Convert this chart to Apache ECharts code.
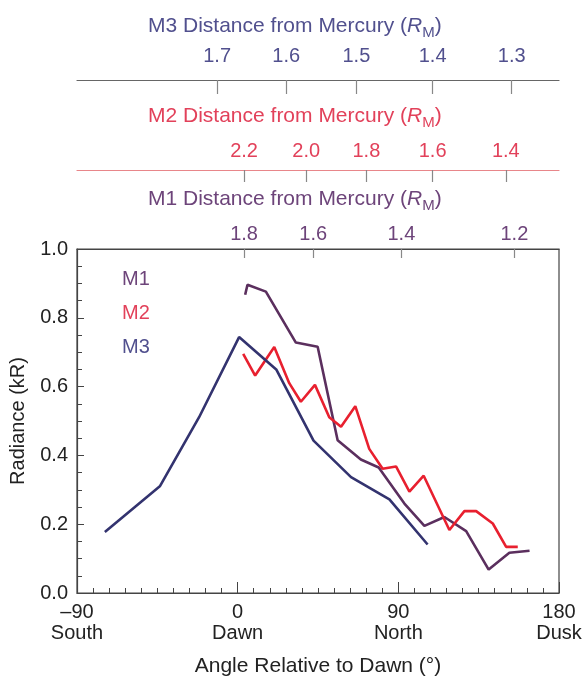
<!DOCTYPE html>
<html>
<head>
<meta charset="utf-8">
<script src="https://cdn.jsdelivr.net/npm/echarts@6/dist/echarts.min.js"></script>
<style>
  html, body { margin: 0; padding: 0; background: #fff; }
  #chart { width: 585px; height: 683px; }
</style>
</head>
<body>
<div id="chart"></div>
<script>
// Datos (angulo en grados, radiancia en kR)
const m1Angle = [4.2, 5.5, 15.8, 32.6, 44.8, 56, 69, 79, 93.4, 104.6, 115.8, 128, 140.6, 152.2, 163.5];
const m1Radiance = [0.867, 0.896, 0.876, 0.728, 0.716, 0.444, 0.388, 0.365, 0.26, 0.195, 0.221, 0.18, 0.068, 0.117, 0.123];

const m2Angle = [3.1, 9.8, 20.5, 28.9, 35.4, 43.3, 51.3, 57.9, 65.9, 73.7, 81.2, 88.7, 96.2, 104.2, 118.6, 127, 133.6, 142.9, 150.4, 156.9];
const m2Radiance = [0.695, 0.632, 0.715, 0.61, 0.556, 0.605, 0.511, 0.483, 0.543, 0.419, 0.361, 0.368, 0.295, 0.341, 0.183, 0.238, 0.238, 0.202, 0.134, 0.134];

const m3Angle = [-74.4, -43.6, -21.6, 0.8, 21.6, 42.5, 63.5, 85, 106.4];
const m3Radiance = [0.177, 0.31, 0.511, 0.744, 0.65, 0.443, 0.337, 0.272, 0.141];

// Ejes de distancia (posicion en angulo y etiqueta)
const m1DistLabels = ['1.8', '1.6', '1.4', '1.2'];
const m1DistAngles = [3.6, 42.3, 91.7, 155];
const m2DistLabels = ['2.2', '2.0', '1.8', '1.6', '1.4'];
const m2DistAngles = [3.6, 38.4, 72.1, 109.2, 150.2];
const m3DistLabels = ['1.7', '1.6', '1.5', '1.4', '1.3'];
const m3DistAngles = [-11.5, 27.2, 66.5, 109.2, 153.5];

const angleTicks = [-90, 0, 90, 180];
const angleNames = ['South', 'Dawn', 'North', 'Dusk'];

const colorM1 = '#5b2f5e';
const colorM2 = '#e8202f';
const colorM3 = '#33336f';
const textM1 = '#6d447a';
const textM2 = '#e2415a';
const textM3 = '#51508e';
const fuente = 'Liberation Sans, Arial, Helvetica, sans-serif';

function zip(xs, ys) {
    return xs.map((x, i) => [x, ys[i]]);
}

// Buscar la etiqueta mas cercana al valor
function etiqueta(angles, labels) {
    return function(v) {
        let best = 0;
        for (let i = 1; i < angles.length; i++) {
            if (Math.abs(angles[i] - v) < Math.abs(angles[best] - v)) best = i;
        }
        return labels[best];
    };
}

function ejeDistancia(angles, labels, offset, lineColor, textColor, tickLen, margin) {
    return {
        type: 'value',
        position: 'top',
        offset: offset,
        min: -90,
        max: 180,
        axisLine: { show: true, onZero: false, lineStyle: { color: lineColor, width: 1.2 } },
        axisTick: { show: true, inside: true, length: tickLen, customValues: angles, lineStyle: { color: '#888', width: 1.2 } },
        axisLabel: {
            show: true, customValues: angles, margin: margin,
            color: textColor, fontSize: 20, fontFamily: fuente,
            formatter: etiqueta(angles, labels)
        },
        splitLine: { show: false }
    };
}

function tituloRich(prefix, color, top) {
    return {
        text: '{n|' + prefix + ' Distance from Mercury (}{r|R}{s|M}{n|)}',
        left: 143,
        top: top,
        textStyle: {
            fontWeight: 'normal',
            rich: {
                n: { color: color, fontSize: 21, fontFamily: fuente, fontWeight: 'normal' },
                r: { color: color, fontSize: 21, fontFamily: fuente, fontStyle: 'italic', fontWeight: 'normal' },
                s: { color: color, fontSize: 15, fontFamily: fuente, fontWeight: 'normal', padding: [12, 0, 0, 0] }
            }
        }
    };
}

const chart = echarts.init(document.getElementById('chart'));

const option = {
    backgroundColor: '#fff',
    animation: false,
    title: [
        tituloRich('M3', textM3, 8),
        tituloRich('M2', textM2, 98),
        tituloRich('M1', textM1, 181)
    ],
    legend: {
        orient: 'vertical',
        left: 111,
        top: 264,
        icon: 'none',
        itemWidth: 1,
        itemHeight: 14,
        itemGap: 14,
        textStyle: { fontSize: 20, fontFamily: fuente },
        data: [
            { name: 'M1', textStyle: { color: textM1 } },
            { name: 'M2', textStyle: { color: textM2 } },
            { name: 'M3', textStyle: { color: textM3 } }
        ]
    },
    grid: {
        left: 77, right: 26, top: 249, bottom: 90,
        show: true, borderColor: '#444', borderWidth: 1.2
    },
    xAxis: [
        {
            type: 'value',
            position: 'bottom',
            min: -90,
            max: 180,
            interval: 90,
            name: 'Angle Relative to Dawn (°)',
            nameLocation: 'middle',
            nameGap: 63,
            nameTextStyle: { color: '#222', fontSize: 21, fontFamily: fuente },
            axisLine: { show: true, onZero: false, lineStyle: { color: '#444', width: 1.2 } },
            axisTick: { show: true, inside: true, length: 11, lineStyle: { color: '#444' } },
            minorTick: { show: true, splitNumber: 10, length: 5, lineStyle: { color: '#444' } },
            axisLabel: {
                color: '#222', fontSize: 20, fontFamily: fuente, lineHeight: 21, margin: 9,
                formatter: function(v) {
                    const i = angleTicks.indexOf(v);
                    const num = v < 0 ? '\u2013' + Math.abs(v) : String(v);
                    return num + '\n' + angleNames[i];
                }
            },
            splitLine: { show: false }
        },
        ejeDistancia(m1DistAngles, m1DistLabels, 0, '#444', textM1, 9, 5),
        ejeDistancia(m2DistAngles, m2DistLabels, 79, '#e8868a', textM2, 12, 9),
        ejeDistancia(m3DistAngles, m3DistLabels, 169, '#666', textM3, 14, 14)
    ],
    yAxis: {
        type: 'value',
        min: 0,
        max: 1,
        interval: 0.2,
        name: 'Radiance (kR)',
        nameLocation: 'middle',
        nameRotate: 90,
        nameGap: 49,
        nameTextStyle: { color: '#222', fontSize: 20, fontFamily: fuente },
        axisLine: { show: true, onZero: false, lineStyle: { color: '#444', width: 1.2 } },
        axisTick: { show: true, inside: true, length: 7, lineStyle: { color: '#444' } },
        minorTick: { show: true, splitNumber: 4, length: 5, lineStyle: { color: '#444' } },
        axisLabel: {
            color: '#222', fontSize: 20, fontFamily: fuente, margin: 9,
            formatter: v => v.toFixed(1)
        },
        splitLine: { show: false }
    },
    series: [
        {
            name: 'M1', type: 'line', xAxisIndex: 0, showSymbol: false, symbol: 'none',
            lineStyle: { color: colorM1, width: 2.6 }, itemStyle: { color: colorM1 },
            data: zip(m1Angle, m1Radiance)
        },
        {
            name: 'M2', type: 'line', xAxisIndex: 0, showSymbol: false, symbol: 'none',
            lineStyle: { color: colorM2, width: 2.6 }, itemStyle: { color: colorM2 },
            data: zip(m2Angle, m2Radiance)
        },
        {
            name: 'M3', type: 'line', xAxisIndex: 0, showSymbol: false, symbol: 'none',
            lineStyle: { color: colorM3, width: 2.6 }, itemStyle: { color: colorM3 },
            data: zip(m3Angle, m3Radiance)
        }
    ]
};

chart.setOption(option);
</script>
</body>
</html>
